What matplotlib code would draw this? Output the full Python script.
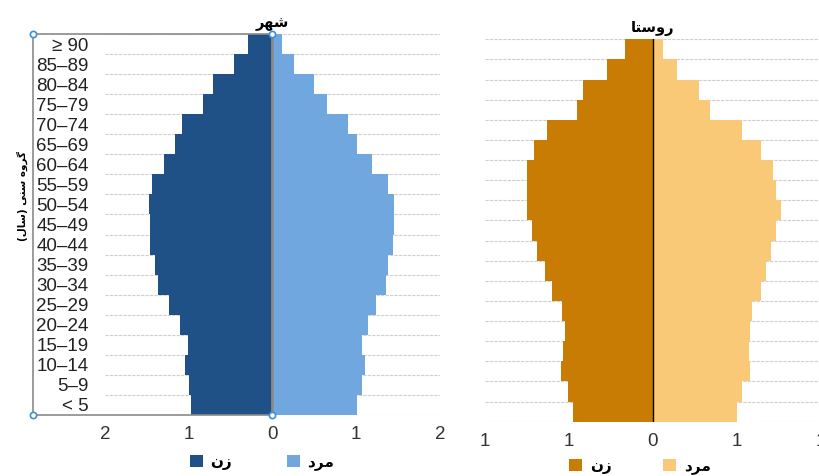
import matplotlib.pyplot as plt

# age groups, bottom to top
ages = ['< 5', '5–9', '10–14', '15–19', '20–24', '25–29', '30–34', '35–39',
        '40–44', '45–49', '50–54', '55–59', '60–64', '65–69', '70–74',
        '75–79', '80–84', '85–89', '≥ 90']

city_women = [0.97, 1.00, 1.04, 1.01, 1.10, 1.23, 1.37, 1.40, 1.46, 1.46,
              1.48, 1.44, 1.29, 1.17, 1.08, 0.83, 0.71, 0.46, 0.29]
city_men = [1.01, 1.07, 1.10, 1.07, 1.14, 1.24, 1.36, 1.38, 1.44, 1.45,
            1.45, 1.38, 1.19, 1.01, 0.90, 0.65, 0.49, 0.26, 0.11]
rural_women = [0.95, 1.01, 1.10, 1.07, 1.05, 1.08, 1.20, 1.29, 1.38, 1.44,
               1.50, 1.50, 1.50, 1.42, 1.26, 0.90, 0.83, 0.55, 0.33]
rural_men = [1.00, 1.06, 1.16, 1.14, 1.15, 1.18, 1.28, 1.34, 1.41, 1.46,
             1.52, 1.47, 1.43, 1.28, 1.06, 0.68, 0.55, 0.29, 0.12]

city_ticks = ['2', '1', '0', '1', '2']
rural_ticks = ['1', '1', '0', '1', '1']

# Persian labels, pre-shaped (presentation forms, visual order)
t_city = '\uFEAE\uFEEC\uFEB7'                    # شهر
t_rural = '\uFE8E\uFE98\uFEB3\uFEED\uFEAD'       # روستا
t_women = '\uFEE5\uFEAF'                          # زن
t_men = '\uFEA9\uFEAE\uFEE3'                      # مرد
t_ylabel = ('(\uFEDD\uFE8E\uFEB3) \uFBFD\uFEE8\uFEB3 '
            '\uFEE9\uFEED\uFEAE\uFB94')           # گروه سنی (سال)

plt.rcParams['font.family'] = ['Liberation Sans', 'DejaVu Sans']

W, H = 820, 476
fig = plt.figure(figsize=(8.2, 4.76), dpi=100)


def px_axes(x0, x1, ytop, ybot):
    return fig.add_axes([x0 / W, (H - ybot) / H, (x1 - x0) / W, (ybot - ytop) / H])


ax1 = px_axes(105, 440, 34, 415)
ax2 = px_axes(485, 821, 39.3, 421.7)

y = list(range(len(ages)))

panels = [
    (ax1, city_women, city_men, '#1f5186', '#71a7df', city_ticks, t_city, '#8a8a8a', 2.0),
    (ax2, rural_women, rural_men, '#c87c04', '#fac978', rural_ticks, t_rural, '#000000', 1.0),
]

for ax, women, men, cw, cm, ticks, title, zc, zw in panels:
    ax.set_xlim(-2, 2)
    ax.set_ylim(-0.5, len(ages) - 0.5)
    for k in range(len(ages) + 1):
        ax.axhline(k - 0.5, color='#cfcfcf', lw=0.8, ls=(0, (3, 1)), zorder=0)
    ax.barh(y, [-v for v in women], height=1.0, color=cw, label=t_women, zorder=2)
    ax.barh(y, men, height=1.0, color=cm, label=t_men, zorder=2)
    ax.axvline(0, color=zc, lw=zw, zorder=3)
    for s in ax.spines.values():
        s.set_visible(False)
    ax.set_xticks([-2, -1, 0, 1, 2])
    ax.set_xticklabels(ticks, fontsize=13.5, color='#333333')
    ax.tick_params(axis='x', length=0, pad=8)
    ax.set_title(title, family='DejaVu Sans', fontweight='bold', fontsize=10.5, pad=5)

ax1.set_yticks(y)
ax1.set_yticklabels(ages, fontsize=13.5, color='#222222')
ax1.tick_params(axis='y', length=0, pad=12)
ax2.set_yticks([])

# selection box around left plot's label area
xb = -2.862
ax1.plot([xb, 0], [18.5, 18.5], color='#8a8a8a', lw=1.2, clip_on=False, zorder=4)
ax1.plot([xb, 0], [-0.5, -0.5], color='#8a8a8a', lw=1.2, clip_on=False, zorder=4)
ax1.plot([xb, xb], [-0.5, 18.5], color='#8a8a8a', lw=1.2, clip_on=False, zorder=4)
ax1.plot([xb, 0, xb, 0], [18.5, 18.5, -0.5, -0.5], 'o', ms=4.5, mfc='white',
         mec='#3d8fd8', mew=1.2, clip_on=False, zorder=5)

fig.text(22 / W, 1 - 196 / H, t_ylabel, rotation=90, ha='center', va='center',
         family='DejaVu Sans', fontweight='bold', fontsize=7.5)

legend_kw = dict(bbox_transform=fig.transFigure, ncol=2, frameon=False, loc='center',
                 handlelength=0.85, handleheight=0.85, handletextpad=0.5,
                 prop={'family': 'DejaVu Sans', 'weight': 'bold', 'size': 11})
ax1.legend(bbox_to_anchor=(262 / W, 1 - 462 / H), columnspacing=3.6, **legend_kw)
ax2.legend(bbox_to_anchor=(640 / W, 1 - 466 / H), columnspacing=3.4, **legend_kw)

fig.savefig('out.png', dpi=100)
